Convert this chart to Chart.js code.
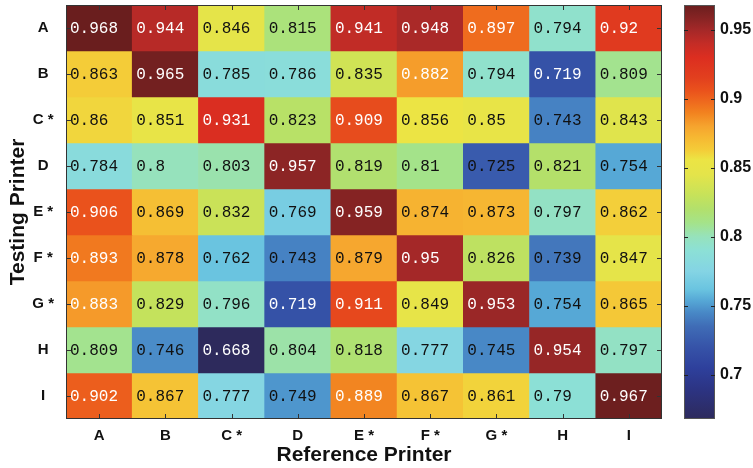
<!DOCTYPE html>
<html>
<head>
<meta charset="utf-8">
<script src="https://cdn.jsdelivr.net/npm/chart.js@4.4.1/dist/chart.umd.min.js"></script>
<style>
  html, body { margin: 0; padding: 0; background: #fff; }
  #wrap { position: relative; width: 753px; height: 468px; }
  #heat { position: absolute; left: 0; top: 0; }
  #cbar { position: absolute; left: 676px; top: 0; }
</style>
</head>
<body>
<div id="wrap">
  <canvas id="heat" width="672" height="468"></canvas>
  <canvas id="cbar" width="77" height="468"></canvas>
</div>
<script>
const refPrinters = ["A", "B", "C *", "D", "E *", "F *", "G *", "H", "I"];
const testPrinters = ["A", "B", "C *", "D", "E *", "F *", "G *", "H", "I"];

// rows = testing printer, columns = reference printer
const scores = [
	[0.968, 0.944, 0.846, 0.815, 0.941, 0.948, 0.897, 0.794, 0.92],
	[0.863, 0.965, 0.785, 0.786, 0.835, 0.882, 0.794, 0.719, 0.809],
	[0.86, 0.851, 0.931, 0.823, 0.909, 0.856, 0.85, 0.743, 0.843],
	[0.784, 0.8, 0.803, 0.957, 0.819, 0.81, 0.725, 0.821, 0.754],
	[0.906, 0.869, 0.832, 0.769, 0.959, 0.874, 0.873, 0.797, 0.862],
	[0.893, 0.878, 0.762, 0.743, 0.879, 0.95, 0.826, 0.739, 0.847],
	[0.883, 0.829, 0.796, 0.719, 0.911, 0.849, 0.953, 0.754, 0.865],
	[0.809, 0.746, 0.668, 0.804, 0.818, 0.777, 0.745, 0.954, 0.797],
	[0.902, 0.867, 0.777, 0.749, 0.889, 0.867, 0.861, 0.79, 0.967],
];

const cbarMin = 0.668;
const cbarMax = 0.968;
const cbarTicks = [0.7, 0.75, 0.8, 0.85, 0.9, 0.95];

// colour map (jet-like, softened), value -> colour
const cmap = [
	[0.668, "#2d2a5c"], [0.69, "#2c3484"], [0.705, "#2e409c"], [0.72, "#3653a8"],
	[0.735, "#3f6cb6"], [0.745, "#4888c6"], [0.754, "#56a8d6"], [0.762, "#6ac4e0"],
	[0.775, "#84d4e4"], [0.79, "#8ce0d6"], [0.8, "#96e2bc"], [0.81, "#a4e38a"],
	[0.82, "#b2e06c"], [0.83, "#c6e25a"], [0.845, "#e4e44a"], [0.856, "#ece444"],
	[0.863, "#f4cc38"], [0.872, "#f6b832"], [0.88, "#f6a42e"], [0.89, "#f2821f"],
	[0.897, "#ef6c1e"], [0.906, "#ea521c"], [0.915, "#e2401e"], [0.93, "#dc2e20"],
	[0.94, "#c42c26"], [0.95, "#a42828"], [0.958, "#882424"], [0.968, "#6a1e1e"],
];

function hexToRgb(h) {
	return [1, 3, 5].map((i) => parseInt(h.substr(i, 2), 16));
}

function colorFor(v) {
	if (v <= cmap[0][0]) return cmap[0][1];
	for (let i = 1; i < cmap.length; i++) {
		if (v <= cmap[i][0]) {
			const [v0, c0] = cmap[i - 1];
			const [v1, c1] = cmap[i];
			const t = (v - v0) / (v1 - v0);
			const a = hexToRgb(c0), b = hexToRgb(c1);
			const c = a.map((x, k) => Math.round(x + (b[k] - x) * t));
			return "rgb(" + c.join(",") + ")";
		}
	}
	return cmap[cmap.length - 1][1];
}

const datasets = testPrinters.map((name, i) => ({
	label: name,
	data: refPrinters.map((ref, j) => ({ x: ref, y: [i, i + 1], v: scores[i][j] })),
	backgroundColor: scores[i].map(colorFor),
	borderWidth: 0,
	barPercentage: 1,
	categoryPercentage: 1,
	grouped: false,
}));

const cellText = {
	id: "cellText",
	afterDatasetsDraw(chart) {
		const ctx = chart.ctx;
		ctx.save();
		ctx.font = "16px 'Liberation Mono', monospace";
		ctx.textBaseline = "middle";
		ctx.textAlign = "left";
		chart.data.datasets.forEach((ds, i) => {
			chart.getDatasetMeta(i).data.forEach((bar, j) => {
				const p = bar.getProps(["x", "y", "base", "width"], true);
				const v = ds.data[j].v;
				ctx.fillStyle = v >= 0.88 || v <= 0.72 ? "#ffffff" : "#111111";
				ctx.fillText(String(v), p.x - p.width / 2 + 4, (p.y + p.base) / 2 + 1);
			});
		});
		ctx.restore();
	},
};

const frameTicks = {
	id: "frameTicks",
	afterDraw(chart) {
		const { ctx, chartArea: a, scales } = chart;
		ctx.save();
		ctx.strokeStyle = "#333";
		ctx.lineWidth = 1;
		ctx.strokeRect(a.left + 0.5, a.top + 0.5, a.right - a.left - 1, a.bottom - a.top - 1);
		ctx.beginPath();
		refPrinters.forEach((r, j) => {
			const x = Math.round(scales.x.getPixelForValue(j)) + 0.5;
			ctx.moveTo(x, a.top); ctx.lineTo(x, a.top + 5);
			ctx.moveTo(x, a.bottom); ctx.lineTo(x, a.bottom - 5);
		});
		testPrinters.forEach((r, i) => {
			const y = Math.round(scales.y.getPixelForValue(i + 0.5)) + 0.5;
			ctx.moveTo(a.left, y); ctx.lineTo(a.left + 5, y);
			ctx.moveTo(a.right, y); ctx.lineTo(a.right - 5, y);
		});
		ctx.stroke();
		ctx.restore();
	},
};

const tickFont = { family: "'Liberation Sans', Arial, sans-serif", size: 15, weight: "bold" };
const titleFont = { family: "'Liberation Sans', Arial, sans-serif", size: 21, weight: "bold" };

new Chart(document.getElementById("heat").getContext("2d"), {
	type: "bar",
	data: { labels: refPrinters, datasets: datasets },
	options: {
		responsive: false,
		animation: false,
		devicePixelRatio: 1,
		layout: { padding: { top: 5, right: 10, left: 0, bottom: 0 } },
		plugins: { legend: { display: false }, tooltip: { enabled: false } },
		scales: {
			x: {
				type: "category",
				grid: { display: false, drawTicks: false },
				border: { display: false },
				ticks: { color: "#111", font: tickFont, padding: 8 },
				title: { display: true, text: "Reference Printer", color: "#111", font: titleFont, padding: { top: 0, bottom: 0 } },
				afterFit: (s) => { s.height = 49; s.paddingLeft = 0; s.paddingRight = 0; },
			},
			y: {
				type: "linear",
				min: 0,
				max: 9,
				reverse: true,
				grid: { display: false, drawTicks: false },
				border: { display: false },
				afterBuildTicks: (s) => { s.ticks = testPrinters.map((n, i) => ({ value: i + 0.5 })); },
				ticks: {
					color: "#111",
					font: tickFont,
					padding: 12,
					crossAlign: "center",
					callback: (v, idx) => testPrinters[idx],
				},
				title: { display: true, text: "Testing Printer", color: "#111", font: titleFont, padding: { top: 6, bottom: 0 } },
				afterFit: (s) => { s.width = 66; s.paddingTop = 0; s.paddingBottom = 0; },
			},
		},
	},
	plugins: [cellText, frameTicks],
});

// colour bar
const cbarFrame = {
	id: "cbarFrame",
	afterDraw(chart) {
		const { ctx, chartArea: a, scales } = chart;
		ctx.save();
		ctx.strokeStyle = "#555";
		ctx.lineWidth = 1;
		ctx.strokeRect(a.left + 0.5, a.top + 0.5, a.right - a.left - 1, a.bottom - a.top - 1);
		ctx.strokeStyle = "#222";
		ctx.beginPath();
		cbarTicks.forEach((t) => {
			const y = Math.round(scales.y.getPixelForValue(t)) + 0.5;
			ctx.moveTo(a.left, y); ctx.lineTo(a.left + 4, y);
			ctx.moveTo(a.right, y); ctx.lineTo(a.right - 4, y);
		});
		ctx.stroke();
		ctx.restore();
	},
};

new Chart(document.getElementById("cbar").getContext("2d"), {
	type: "bar",
	data: {
		labels: [""],
		datasets: [{
			data: [[cbarMin, cbarMax]],
			barPercentage: 1,
			categoryPercentage: 1,
			borderWidth: 0,
			backgroundColor: (c) => {
				const chart = c.chart;
				if (!chart.chartArea) return "#888";
				const y = chart.scales.y;
				const y0 = y.getPixelForValue(cbarMin), y1 = y.getPixelForValue(cbarMax);
				const g = chart.ctx.createLinearGradient(0, y0, 0, y1);
				cmap.forEach(([v, col]) => g.addColorStop((v - cbarMin) / (cbarMax - cbarMin), col));
				return g;
			},
		}],
	},
	options: {
		responsive: false,
		animation: false,
		devicePixelRatio: 1,
		layout: { padding: { top: 5, left: 8, right: 0, bottom: 49 } },
		plugins: { legend: { display: false }, tooltip: { enabled: false } },
		scales: {
			x: { display: false },
			y: {
				position: "right",
				min: cbarMin,
				max: cbarMax,
				grid: { display: false, drawTicks: false },
				border: { display: false },
				afterBuildTicks: (s) => { s.ticks = cbarTicks.map((t) => ({ value: t })); },
				ticks: {
					color: "#111",
					font: { family: "'Liberation Sans', Arial, sans-serif", size: 16, weight: "bold" },
					padding: 5,
					callback: (v) => String(v),
				},
				afterFit: (s) => { s.width = 38; s.paddingTop = 0; s.paddingBottom = 0; },
			},
		},
	},
	plugins: [cbarFrame],
});
</script>
</body>
</html>
